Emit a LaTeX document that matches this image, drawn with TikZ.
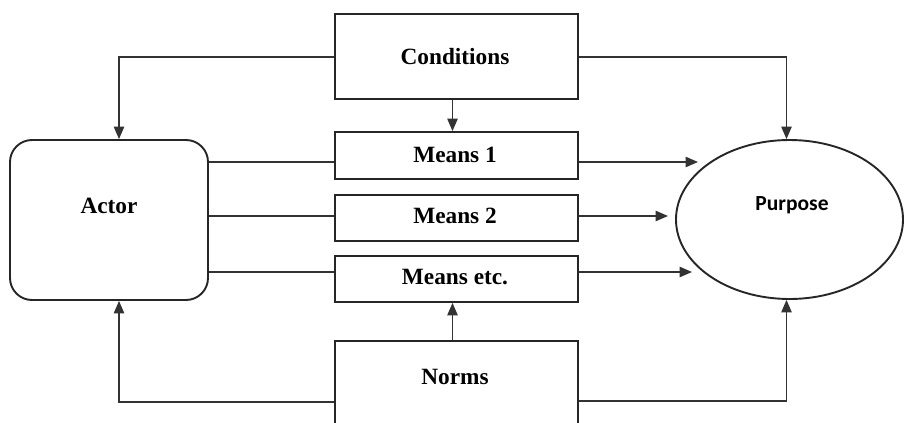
\documentclass[tikz,border=0pt]{standalone}
\usepackage{fontspec}
\setmainfont{Liberation Serif}
\newfontfamily\purposefont{Carlito}
\usetikzlibrary{arrows.meta,shapes.geometric,calc}
\begin{document}
\begin{tikzpicture}[x=1pt,y=-1pt,
  box/.style={draw=black!85,line width=1.9pt,rectangle,inner sep=0pt,font=\fontsize{23}{27}\selectfont\bfseries},
  conn/.style={draw=black!80,line width=1.2pt},
  arr/.style={conn,-{Triangle[length=12.5pt,width=10.5pt]}},
  lbl/.style={inner sep=0pt,font=\fontsize{23.3}{27}\selectfont\bfseries}]
\useasboundingbox (0,0) rectangle (905,423);
\clip (0,0) rectangle (905,423);
\node[box,minimum width=243pt,minimum height=85pt] (cond) at (456.5,56.5) {};
\node[lbl] (condt) at (455,57) {Conditions};
\node[box,minimum width=243pt,minimum height=47pt] (m1) at (456.5,155.5) {};
\node[lbl] (m1t) at (455,155) {Means 1};
\node[box,minimum width=243pt,minimum height=46pt] (m2) at (456.5,218) {};
\node[lbl] (m2t) at (455,216) {Means 2};
\node[box,minimum width=243pt,minimum height=46pt] (m3) at (456.5,279) {};
\node[lbl] (m3t) at (455,277) {Means etc.};
\node[box,minimum width=243pt,minimum height=110pt,anchor=north] (norms) at (456.5,340) {};
\node[lbl] (normst) at (455,377) {Norms};
\node[box,rounded corners=22pt,minimum width=198pt,minimum height=160pt] (actor) at (109,220) {};
\node[lbl] (actort) at (109,206) {Actor};
\node[draw=black!85,line width=1.9pt,ellipse,minimum width=227pt,minimum height=159pt,inner sep=0pt] (purpose) at (789.5,219.5) {};
\node[inner sep=0pt,font=\fontsize{21.5}{25}\selectfont\purposefont\bfseries] (purposet) at (792,205) {Purpose};
% Conditions connectors
\draw[arr] (cond.west |- 0,57) -| ([xshift=10pt]actor.north);
\draw[arr] (cond.east |- 0,57) -| ([xshift=-3pt]purpose.north);
\draw[arr] ([xshift=-4pt]cond.south) -- ([xshift=-4pt]m1.north);
% Actor to means
\draw[conn] (actor.east |- 0,162) -- (m1.west |- 0,162);
\draw[conn] (actor.east |- 0,216) -- (m2.west |- 0,216);
\draw[conn] (actor.east |- 0,272) -- (m3.west |- 0,272);
% Means to purpose
\coordinate (p1) at (698,162);
\coordinate (p2) at (668,216);
\coordinate (p3) at (692,272);
\draw[arr] (m1.east |- p1) -- (p1);
\draw[arr] (m2.east |- p2) -- (p2);
\draw[arr] (m3.east |- p3) -- (p3);
% Norms connectors
\draw[arr] ([xshift=-4pt]norms.north) -- ([xshift=-4pt]m3.south);
\draw[arr] (norms.west |- 0,402) -| ([xshift=10pt]actor.south);
\draw[arr] (norms.east |- 0,401) -| ([xshift=-3pt]purpose.south);
\end{tikzpicture}
\end{document}
